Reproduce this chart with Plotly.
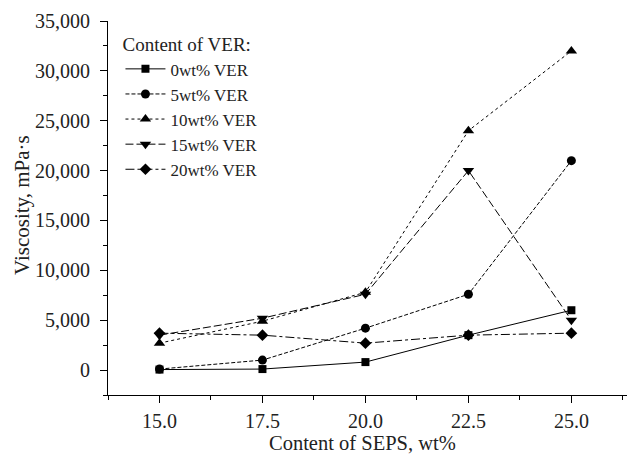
import plotly.graph_objects as go

seps = [15.0, 17.5, 20.0, 22.5, 25.0]
names = ["0wt% VER", "5wt% VER", "10wt% VER", "15wt% VER", "20wt% VER"]
v0 = [50, 100, 800, 3500, 6000]
v5 = [100, 1000, 4200, 7600, 21000]
v10 = [2700, 4900, 7800, 24000, 32000]
v15 = [3500, 5200, 7600, 20000, 5000]
v20 = [3700, 3500, 2700, 3500, 3700]
series = [v0, v5, v10, v15, v20]
symbols = ["square", "circle", "triangle-up", "triangle-down", "diamond"]
dashes = ["solid", "4px,2px", "dot", "8px,3px", "dashdot"]
sizes = [8, 9, 10, 10, 9]

FONT = "Liberation Serif"
TXT = "#222"

fig = go.Figure()
for nm, vals, sym, ds, sz in zip(names, series, symbols, dashes, sizes):
    fig.add_trace(go.Scatter(
        x=seps, y=vals, name=nm, mode="lines+markers",
        line=dict(color="black", width=1, dash=ds),
        marker=dict(symbol=sym, size=sz, color="black"),
    ))

fig.update_layout(
    width=627, height=454,
    margin=dict(l=108, r=0, t=21, b=59),
    plot_bgcolor="white", paper_bgcolor="white",
    font=dict(family=FONT, size=19, color=TXT),
    showlegend=True,
    legend=dict(
        x=0.024, y=0.985, xanchor="left", yanchor="top",
        bgcolor="rgba(0,0,0,0)",
        title=dict(text="Content of VER:", font=dict(family=FONT, size=19, color=TXT)),
        font=dict(family=FONT, size=17, color=TXT),
        tracegroupgap=0, itemwidth=40,
    ),
    xaxis=dict(
        range=[13.75, 26.35], tickvals=seps, ticktext=["15.0", "17.5", "20.0", "22.5", "25.0"],
        tickfont=dict(family=FONT, size=20, color=TXT), ticklabelstandoff=1,
        ticks="outside", ticklen=7, tickcolor="black", showline=True, linecolor="black",
        linewidth=1, showgrid=False, zeroline=False, mirror=False,
        minor=dict(tickvals=[13.75, 16.25, 18.75, 21.25, 23.75, 26.25], ticks="outside",
                   ticklen=4, tickcolor="black", showgrid=False),
    ),
    yaxis=dict(
        range=[-2500, 35000], tickvals=[0, 5000, 10000, 15000, 20000, 25000, 30000, 35000],
        tickfont=dict(family=FONT, size=20, color=TXT), ticklabelstandoff=6,
        tickformat=",", ticks="outside", ticklen=7, tickcolor="black", showline=True,
        linecolor="black", linewidth=1, showgrid=False, zeroline=False,
        minor=dict(dtick=2500, tick0=0, ticks="outside", ticklen=4, tickcolor="black",
                   showgrid=False),
    ),
    annotations=[
        dict(text="Content of SEPS, wt%", xref="paper", yref="paper",
             x=(362 - 108) / 519, y=-(443 - 395) / 374, xanchor="center", yanchor="middle",
             showarrow=False, borderpad=0, font=dict(family=FONT, size=20.5, color=TXT)),
        dict(text="Viscosity, mPa·s", xref="paper", yref="paper",
             x=(22 - 108) / 519, y=(395 - 205) / 374, xanchor="center", yanchor="middle",
             textangle=-90, showarrow=False, font=dict(family=FONT, size=21, color=TXT)),
    ],
)

fig.write_html("out.html")
